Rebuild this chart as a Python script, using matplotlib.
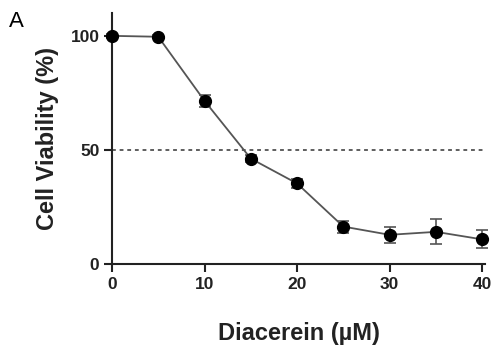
import matplotlib
matplotlib.use('Agg')
import matplotlib.pyplot as plt

# ── 데이터 ──
conc = [0, 5, 10, 15, 20, 25, 30, 35, 40]
viability = [100, 99.6, 71.5, 46.2, 35.3, 16.4, 12.8, 14.1, 10.8]
err = [1.0, 0.6, 2.5, 1.6, 2.0, 2.6, 3.5, 5.5, 4.0]

x_ticks = [0, 10, 20, 30, 40]
y_ticks = [0, 50, 100]

plt.rcParams['font.family'] = ['Liberation Sans', 'DejaVu Sans']

fig = plt.figure(figsize=(4.94, 3.54), dpi=100)
ax = fig.add_axes([0.2267, 0.2542, 0.755, 0.709])

# 50% 기준선
ax.axhline(50, color='#333333', linestyle=(0, (2.5, 2.5)), linewidth=1.1, zorder=1)

ax.errorbar(conc, viability, yerr=err, color='#555555', linewidth=1.3,
            ecolor='#555555', elinewidth=1.2, capsize=4, capthick=1.2,
            marker='o', markersize=8.5, markerfacecolor='black',
            markeredgecolor='black', zorder=3, clip_on=False)

ax.set_xlim(0, 40.3)
ax.set_ylim(0, 110)
ax.set_xticks(x_ticks)
ax.set_yticks(y_ticks)

for side in ['top', 'right']:
    ax.spines[side].set_visible(False)
for side in ['left', 'bottom']:
    ax.spines[side].set_linewidth(1.5)
    ax.spines[side].set_color('#222222')

ax.tick_params(direction='out', length=6, width=1.5, color='#222222',
               labelsize=12.5, pad=3)
for lbl in ax.get_xticklabels() + ax.get_yticklabels():
    lbl.set_fontweight('bold')
    lbl.set_color('#222222')

ax.set_xlabel('Diacerein (\u00b5M)', fontsize=17, fontweight='bold',
              color='#222222', labelpad=22)
ax.set_ylabel('Cell Viability (%)', fontsize=17, fontweight='bold',
              color='#222222', labelpad=8)

fig.text(0.018, 0.925, 'A', fontsize=16, color='black')

fig.savefig('out.png', dpi=100)
